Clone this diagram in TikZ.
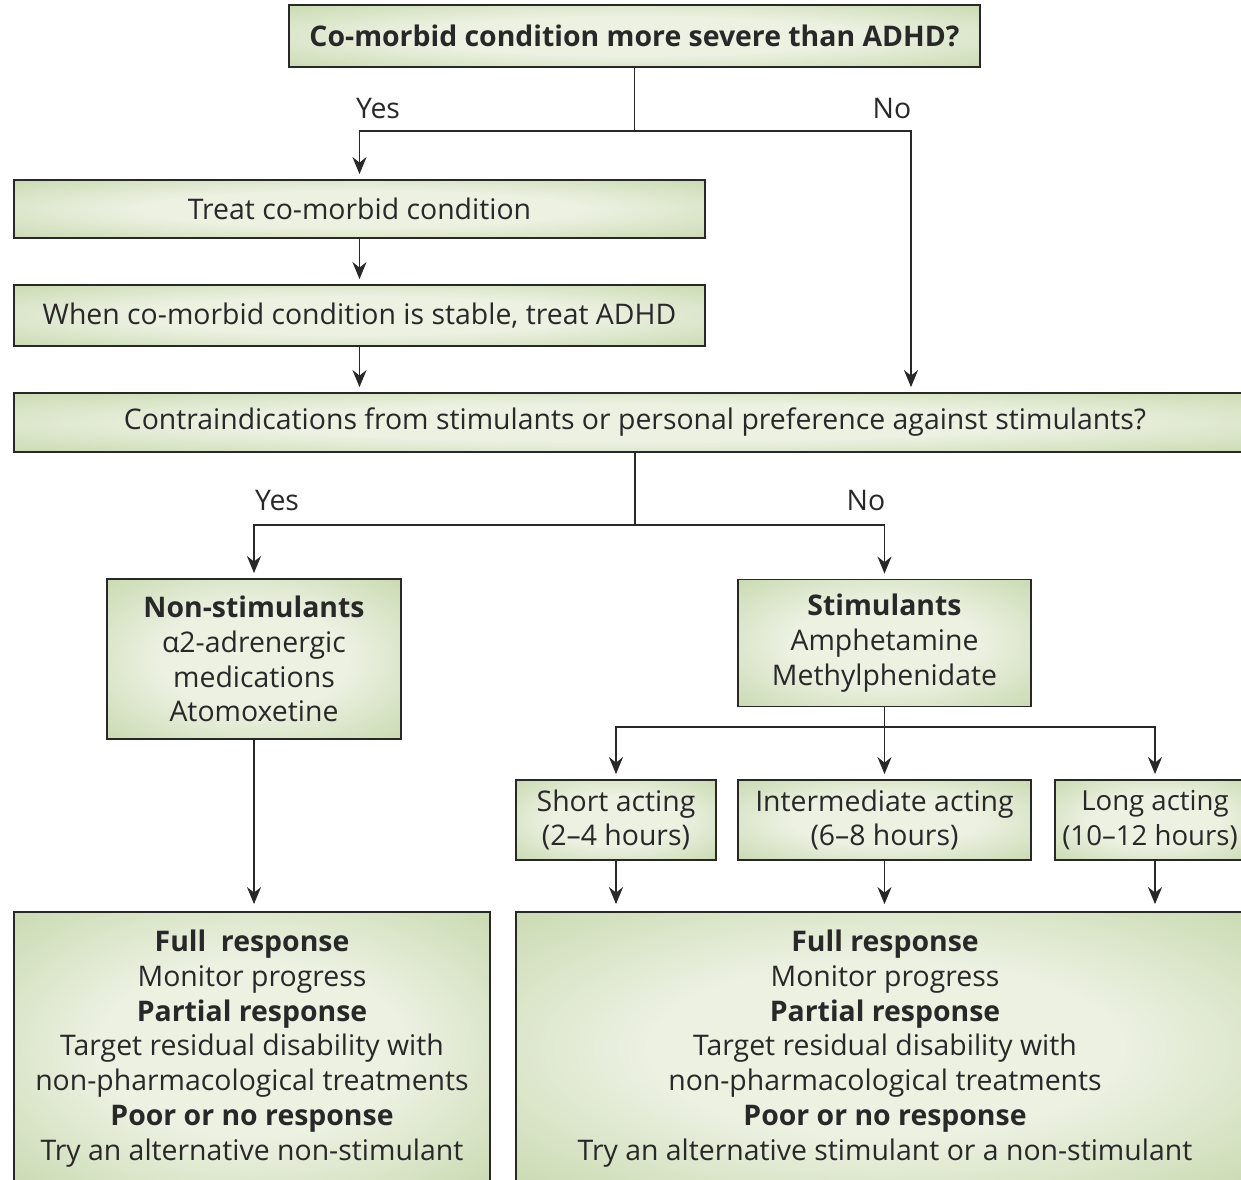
\documentclass[tikz,border=0pt]{standalone}
\usepackage{fontspec}
\setmainfont{Open Sans}
\usetikzlibrary{arrows.meta}
\definecolor{boxin}{RGB}{236,241,226}
\definecolor{boxout}{RGB}{160,190,118}
\definecolor{inkgray}{RGB}{40,40,40}
\pgfdeclareradialshading{boxglow}{\pgfpoint{0bp}{0bp}}{color(0bp)=(boxin); color(16bp)=(boxin); color(60bp)=(boxout); color(75bp)=(boxout)}

\begin{document}
\begin{tikzpicture}[x=0.5pt,y=0.5pt,yscale=-1,xscale=1,
	gbox/.style={draw=inkgray, line width=0.9pt, shading=boxglow, rectangle, inner sep=0pt, align=center, text=inkgray, font=\fontsize{14.2}{17.4}\selectfont},
	head/.style={gbox, font=\fontsize{14.2}{17.4}\selectfont\bfseries},
	link/.style={draw=inkgray, line width=0.9pt},
	arr/.style={link, -{Stealth[length=8.5pt,width=7pt]}, shorten >=2.5pt},
	ans/.style={text=inkgray, font=\fontsize{14.2}{16}\selectfont}]
	%set diagram left start at 0, and has height of 1179
	\clip (0,0) rectangle (1241,1179);

	% Text Node
	\node [head, minimum width=345.5pt, minimum height=31pt] (cond) at (634.5,36) {Co-morbid condition more severe than ADHD?};
	% Text Node
	\node [gbox, minimum width=345.5pt, minimum height=29pt] (treat) at (359.5,209) {Treat co-morbid condition};
	% Text Node
	\node [gbox, minimum width=345.5pt, minimum height=30.5pt] (stable) at (359.5,315.5) {When co-morbid condition is stable, treat ADHD};
	% Text Node
	\node [gbox, minimum width=621pt, minimum height=29.5pt] (contra) at (635,422.5) {Contraindications from stimulants or personal preference against stimulants?};
	% Text Node
	\node [gbox, minimum width=147pt, minimum height=80pt] (nonstim) at (254,659) {\textbf{Non-stimulants}\\α2-adrenergic\\medications\\Atomoxetine};
	% Text Node
	\node [gbox, minimum width=146.5pt, minimum height=63.5pt] (stim) at (884.5,643) {\textbf{Stimulants}\\Amphetamine\\Methylphenidate};
	% Text Node
	\node [gbox, minimum width=100pt, minimum height=40pt] (short) at (616,820) {Short acting\\(2--4 hours)};
	% Text Node
	\node [gbox, minimum width=146.5pt, minimum height=40pt] (inter) at (884.5,820) {Intermediate acting\\(6--8 hours)};
	% Text Node
	\node [gbox, minimum width=100pt, minimum height=40pt, font=\fontsize{13.8}{17.4}\selectfont] (long) at (1155,820) {Long acting\\\hspace*{-5pt}(10--12 hours)};
	% Text Node
	\node [gbox, minimum width=238pt, minimum height=136.5pt] (respL) at (252,1048.5) {\textbf{Full~ response}\\Monitor progress\\\textbf{Partial response}\\Target residual disability with\\non-pharmacological treatments\\\textbf{Poor or no response}\\Try an alternative non-stimulant};
	% Text Node
	\node [gbox, minimum width=369pt, minimum height=136.5pt] (respR) at (885,1048.5) {\textbf{Full response}\\Monitor progress\\\textbf{Partial response}\\Target residual disability with\\non-pharmacological treatments\\\textbf{Poor or no response}\\Try an alternative stimulant or a non-stimulant};

	% Branch points
	\coordinate (fork1) at (634.5,131);
	\coordinate (noA) at (911,131);
	\coordinate (fork2) at (635,525);
	\coordinate (fork3) at (884.5,727);

	%Straight Lines
	\draw [link] (cond) -- (fork1);
	\draw [arr] (fork1) -| (treat.north);
	\draw [arr] (fork1) -- (noA) -- (noA |- contra.north);
	\draw [arr] (treat) -- (stable);
	\draw [arr] (stable) -- (stable.south |- contra.north);
	\draw [link] (contra.south -| fork2) -- (fork2);
	\draw [arr] (fork2) -| (nonstim.north);
	\draw [arr] (fork2) -| (stim.north);
	\draw [link] (stim) -- (fork3);
	\draw [arr] (fork3) -| (short.north);
	\draw [arr] (fork3) -- (inter);
	\draw [arr] (fork3) -| (long.north);
	\draw [arr, shorten >=3.5pt] (nonstim) -- (nonstim.south |- respL.north);
	\draw [arr, shorten >=3.5pt] (short) -- (short.south |- respR.north);
	\draw [arr, shorten >=3.5pt] (inter) -- (inter.south |- respR.north);
	\draw [arr, shorten >=3.5pt] (long) -- (long.south |- respR.north);

	% Text Node
	\node [ans] (yes1) at (378,108) {Yes};
	\node [ans] (no1) at (892,108) {No};
	\node [ans] (yes2) at (277,500) {Yes};
	\node [ans] (no2) at (866,500) {No};
\end{tikzpicture}
\end{document}
